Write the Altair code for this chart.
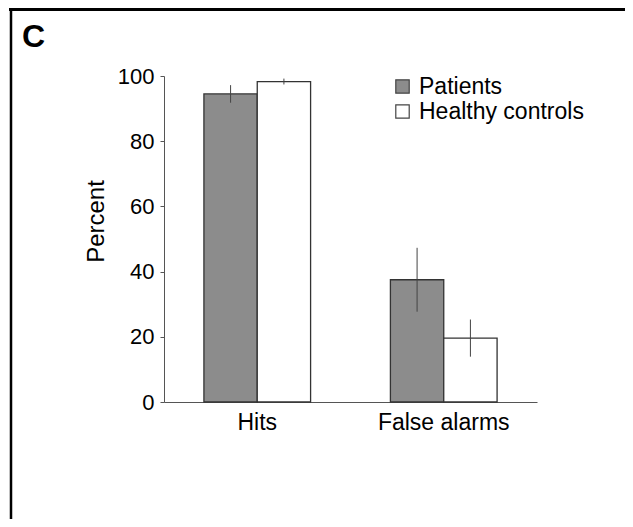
import altair as alt
import pandas as pd

categories = ["Hits", "False alarms"]
groups = ["Patients", "Healthy controls"]
patients_mean = [94.5, 37.5]
controls_mean = [98.3, 19.6]
patients_err = [2.7, 9.8]
controls_err = [0.9, 5.7]
fills = ["#8c8c8c", "#ffffff"]
y_ticks = [0, 20, 40, 60, 80, 100]

rows = []
for i, c in enumerate(categories):
    for g, m, e in ((groups[0], patients_mean[i], patients_err[i]),
                    (groups[1], controls_mean[i], controls_err[i])):
        rows.append({"cond": c, "group": g, "mean": m, "lo": m - e, "hi": m + e})
df = pd.DataFrame(rows)

FONT = "Liberation Sans"
W, H = 373, 326
PL, PT = 156, 68
TOTAL_W, TOTAL_H = 617, 511

x_enc = alt.X("cond:N", sort=categories,
              scale=alt.Scale(paddingInner=0.428, paddingOuter=0.214),
              axis=alt.Axis(title=None, labelAngle=0, ticks=False, labelPadding=9,
                            labelFontSize=23, labelFont=FONT, labelColor="black",
                            domainColor="#555"))
xo_enc = alt.XOffset("group:N", sort=groups,
                     scale=alt.Scale(paddingInner=0, paddingOuter=0))
y_scale = alt.Scale(domain=[0, 100], nice=False)

base = alt.Chart(df)

bars = base.mark_bar(stroke="#333", strokeWidth=1.3).encode(
    x=x_enc,
    xOffset=xo_enc,
    y=alt.Y("mean:Q", scale=y_scale,
            axis=alt.Axis(values=y_ticks, grid=False, title="Percent",
                          titleFontSize=24, titleFont=FONT, titleFontWeight="normal",
                          titleColor="black", titleAngle=270, titleX=-68, titleY=145,
                          titleAlign="center", titleBaseline="middle",
                          labelFontSize=22, labelFont=FONT, labelColor="black",
                          tickSize=4, tickColor="#555", domainColor="#555",
                          labelPadding=6)),
    fill=alt.Fill("group:N", sort=groups,
                  scale=alt.Scale(domain=groups, range=fills),
                  legend=alt.Legend(title=None, orient="none", legendX=227, legendY=-1,
                                    symbolType="square", symbolSize=180,
                                    symbolStrokeColor="#444", symbolStrokeWidth=1.2,
                                    labelFontSize=23, labelFont=FONT, labelColor="black",
                                    labelLimit=400, labelOffset=5, rowPadding=1, padding=0)),
)

errs = base.mark_rule(color="#444", strokeWidth=1).encode(
    x=alt.X("cond:N", sort=categories),
    xOffset=alt.XOffset("group:N", sort=groups),
    y=alt.Y("lo:Q", scale=y_scale),
    y2="hi:Q",
)

one = alt.Data(values=[{"k": 1}])
label_c = alt.Chart(one).mark_text(text="C", fontSize=32, fontWeight="bold", font=FONT,
                                   align="left", baseline="alphabetic", color="black").encode(
    x=alt.value(-142), y=alt.value(-29))

top_line = alt.Chart(one).mark_rule(color="black", strokeWidth=3).encode(
    x=alt.value(-155), x2=alt.value(TOTAL_W - PL), y=alt.value(-PT + 1.5))
left_line = alt.Chart(one).mark_rule(color="black", strokeWidth=2.5).encode(
    x=alt.value(-153), y=alt.value(-PT), y2=alt.value(TOTAL_H - PT))

chart = alt.layer(bars, errs, label_c, top_line, left_line).properties(
    width=W, height=H,
    autosize=alt.AutoSizeParams(type="none"),
    padding={"left": PL, "top": PT, "right": TOTAL_W - PL - W, "bottom": TOTAL_H - PT - H},
).configure_view(stroke=None)

chart.save("out.html", embed_options={"renderer": "svg", "actions": False})
